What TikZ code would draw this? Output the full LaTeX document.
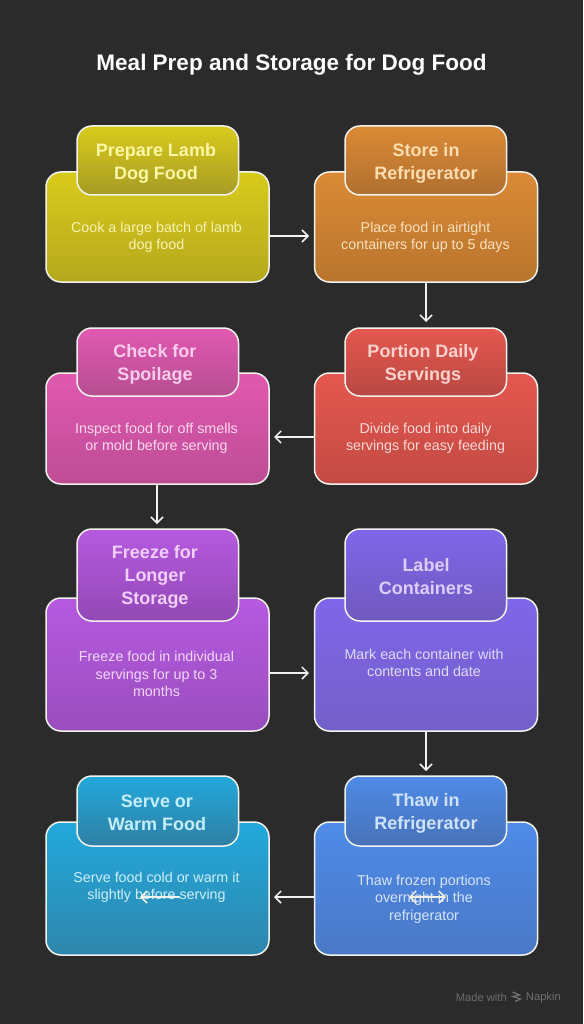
\documentclass[tikz,border=0pt]{standalone}
\usepackage{fontspec}
\setmainfont{Liberation Sans}
\usetikzlibrary{arrows.meta}
\definecolor{bg}{HTML}{2B2B2B}
\definecolor{edge}{HTML}{F2F2EE}
\definecolor{wm}{HTML}{6E6E6E}
\definecolor{aT}{HTML}{D9CB1B}\definecolor{aB}{HTML}{B5A81E}\definecolor{aH}{HTML}{A69B25}\definecolor{aX}{HTML}{FDF7A6}\definecolor{aD}{HTML}{F8F2B0}
\definecolor{bT}{HTML}{DB8A35}\definecolor{bB}{HTML}{B8752E}\definecolor{bH}{HTML}{B07030}\definecolor{bX}{HTML}{FFDDB0}\definecolor{bD}{HTML}{FDE0BE}
\definecolor{cT}{HTML}{E5584F}\definecolor{cB}{HTML}{C24A44}\definecolor{cH}{HTML}{B94843}\definecolor{cX}{HTML}{FFD2CC}\definecolor{cD}{HTML}{FDD8D4}
\definecolor{dT}{HTML}{E159B1}\definecolor{dB}{HTML}{BD4D95}\definecolor{dH}{HTML}{B64E91}\definecolor{dX}{HTML}{FFCDEB}\definecolor{dD}{HTML}{FDD8EE}
\definecolor{eT}{HTML}{B659E0}\definecolor{eB}{HTML}{9A4EBE}\definecolor{eH}{HTML}{9249B5}\definecolor{eX}{HTML}{F1CFFF}\definecolor{eD}{HTML}{F1D8FD}
\definecolor{fT}{HTML}{7F66EA}\definecolor{fB}{HTML}{7360C8}\definecolor{fH}{HTML}{7059BE}\definecolor{fX}{HTML}{D9D0FF}\definecolor{fD}{HTML}{E0DAFD}
\definecolor{gT}{HTML}{4E8BE8}\definecolor{gB}{HTML}{4A78C6}\definecolor{gH}{HTML}{4872B8}\definecolor{gX}{HTML}{CFE2FF}\definecolor{gD}{HTML}{D6E5FD}
\definecolor{hT}{HTML}{22A9DC}\definecolor{hB}{HTML}{2E86AC}\definecolor{hH}{HTML}{2F7FA3}\definecolor{hX}{HTML}{C5EEFF}\definecolor{hD}{HTML}{CFEFFD}
\tikzset{
  x=1pt,y=-1pt,
  boxbase/.style={draw=edge,line width=1.5pt,rounded corners=15pt,inner sep=0pt,outer sep=0pt,anchor=north west},
  bodybox/.style={boxbase,top color=#1T,bottom color=#1B,minimum width=223pt},
  headbox/.style={boxbase,top color=#1T,bottom color=#1H,minimum width=161.5pt},
  headtext/.style={font=\bfseries\fontsize{18}{23}\selectfont,align=center,anchor=center,inner sep=0pt},
  desctext/.style={font=\fontsize{14.3}{17.3}\selectfont,align=center,anchor=center,inner sep=0pt},
  link/.style={draw=edge,line width=1.5pt,-{Straight Barb[length=6pt,width=12pt,line width=1.5pt]}}
}
\begin{document}
\begin{tikzpicture}
\useasboundingbox[fill=bg] (0,0) rectangle (583,1024);
\node[font=\bfseries\fontsize{22.5}{28}\selectfont,text=white,inner sep=0pt] (title) at (291.5,65) {Meal Prep and Storage for Dog Food};
% row 1
\node[bodybox=a,minimum height=110pt] (b1) at (46,172) {};
\node[headbox=a,minimum height=69pt] (h1) at (77,126) {};
\node[bodybox=b,minimum height=110pt] (b2) at (314.5,172) {};
\node[headbox=b,minimum height=69pt] (h2) at (345,126) {};
% row 2
\node[bodybox=c,minimum height=111pt] (b3) at (314.5,373) {};
\node[headbox=c,minimum height=68pt] (h3) at (345,328) {};
\node[bodybox=d,minimum height=111pt] (b4) at (46,373) {};
\node[headbox=d,minimum height=68pt] (h4) at (77,328) {};
% row 3
\node[bodybox=e,minimum height=133pt] (b5) at (46,598) {};
\node[headbox=e,minimum height=92pt] (h5) at (77,529) {};
\node[bodybox=f,minimum height=133pt] (b6) at (314.5,598) {};
\node[headbox=f,minimum height=92pt] (h6) at (345,529) {};
% row 4
\node[bodybox=g,minimum height=133pt] (b7) at (314.5,822) {};
\node[headbox=g,minimum height=70pt] (h7) at (345,776) {};
\node[bodybox=h,minimum height=133pt] (b8) at (46,822) {};
\node[headbox=h,minimum height=70pt] (h8) at (77,776) {};
% heading labels
\node[headtext,text=aX] (t1) at (156,163) {Prepare Lamb\\Dog Food};
\node[headtext,text=bX] (t2) at (426,163) {Store in\\Refrigerator};
\node[headtext,text=cX] (t3) at (423,364) {Portion Daily\\Servings};
\node[headtext,text=dX] (t4) at (155,364) {Check for\\Spoilage};
\node[headtext,text=eX] (t5) at (155,577) {Freeze for\\Longer\\Storage};
\node[headtext,text=fX] (t6) at (426,577) {Label\\Containers};
\node[headtext,text=gX] (t7) at (426,813) {Thaw in\\Refrigerator};
\node[headtext,text=hX] (t8) at (157,813) {Serve or\\Warm Food};
% descriptions
\node[desctext,text=aD] (d1) at (156.5,237) {Cook a large batch of lamb\\dog food};
\node[desctext,text=bD] (d2) at (425.5,237) {Place food in airtight\\containers for up to 5 days};
\node[desctext,text=cD] (d3) at (425.5,438) {Divide food into daily\\servings for easy feeding};
\node[desctext,text=dD] (d4) at (156.5,438) {Inspect food for off smells\\or mold before serving};
\node[desctext,text=eD] (d5) at (156.5,674) {Freeze food in individual\\servings for up to 3\\months};
\node[desctext,text=fD] (d6) at (424,663) {Mark each container with\\contents and date};
\node[desctext,text=gD] (d7) at (424,899) {Thaw frozen portions\\overnight in the\\refrigerator};
\node[desctext,text=hD] (d8) at (156.5,887) {Serve food cold or warm it\\slightly before serving};
% connectors
\coordinate (c1) at (309,236);
\coordinate (c2) at (426,322);
\coordinate (c3) at (274,437);
\coordinate (c4) at (157,524);
\coordinate (c5) at (309,673);
\coordinate (c6) at (426,771);
\coordinate (c7) at (274,897);
\coordinate (c8a) at (180,897);
\coordinate (c8b) at (140,897);
\coordinate (c9a) at (409,897);
\coordinate (c9b) at (446,897);
\draw[link] (b1.east |- c1) -- (c1);
\draw[link] (b2.south -| c2) -- (c2);
\draw[link] (b3.west |- c3) -- (c3);
\draw[link] (b4.south -| c4) -- (c4);
\draw[link] (b5.east |- c5) -- (c5);
\draw[link] (b6.south -| c6) -- (c6);
\draw[link] (b7.west |- c7) -- (c7);
\draw[link] (c8a) -- (c8b);
\draw[link,{Straight Barb[length=6pt,width=12pt,line width=1.5pt]}-{Straight Barb[length=6pt,width=12pt,line width=1.5pt]}] (c9a) -- (c9b);
% watermark
\node[font=\fontsize{11.2}{12}\selectfont,text=wm,inner sep=0pt,anchor=east] (w2) at (561,997.5) {Napkin};
\node[font=\fontsize{11.2}{12}\selectfont,text=wm,inner sep=0pt,anchor=east] (w1) at (507,997.5) {Made with};
\draw[wm,line width=1.3pt] (512.5,992) -- (519.5,995) -- (513,996.5) -- (520.5,999) -- (515,1001.5);
\end{tikzpicture}
\end{document}
